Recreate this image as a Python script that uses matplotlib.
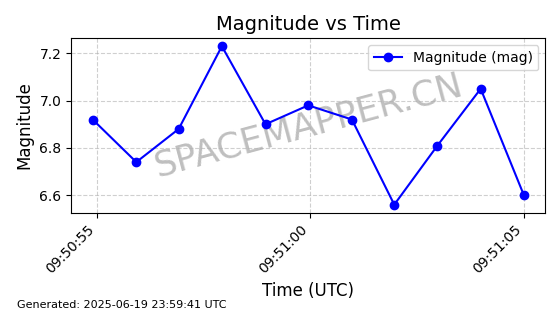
from datetime import datetime, timedelta
import matplotlib
matplotlib.use('Agg')
import matplotlib.pyplot as plt
import matplotlib.dates as mdates

start = datetime(2025, 6, 19, 9, 50, 55)
offsets_s = [-0.09, 0.93, 1.92, 2.93, 3.95, 4.95, 5.97, 6.96, 7.97, 8.98, 9.99]
magnitudes = [6.92, 6.74, 6.88, 7.23, 6.90, 6.98, 6.92, 6.56, 6.81, 7.05, 6.60]
times = [start + timedelta(seconds=s) for s in offsets_s]

fig, ax = plt.subplots(figsize=(5.6, 3.14), dpi=100)
ax.plot(times, magnitudes, marker='o', linestyle='-', color='blue', label='Magnitude (mag)')
ax.set_title('Magnitude vs Time', fontsize=14)
ax.set_xlabel('Time (UTC)', fontsize=12)
ax.set_ylabel('Magnitude', fontsize=12)
ax.grid(True, linestyle='--', alpha=0.6)
ax.legend(loc='upper right')

ax.xaxis.set_major_locator(mdates.SecondLocator(bysecond=range(0, 60, 5)))
ax.xaxis.set_major_formatter(mdates.DateFormatter('%H:%M:%S'))
plt.setp(ax.get_xticklabels(), rotation=45, ha='right')

# watermark sits under the line
ax.text(0.5, 0.5, 'SPACEMAPPER.CN', transform=ax.transAxes, fontsize=25.5,
        color='gray', alpha=0.5, rotation=15, ha='center', va='center', zorder=1)

fig.text(0.03, 0.02, 'Generated: 2025-06-19 23:59:41 UTC', fontsize=8)

plt.subplots_adjust(left=0.127, right=0.974, top=0.878, bottom=0.323)
plt.savefig('out.png', dpi=100)
plt.close()
